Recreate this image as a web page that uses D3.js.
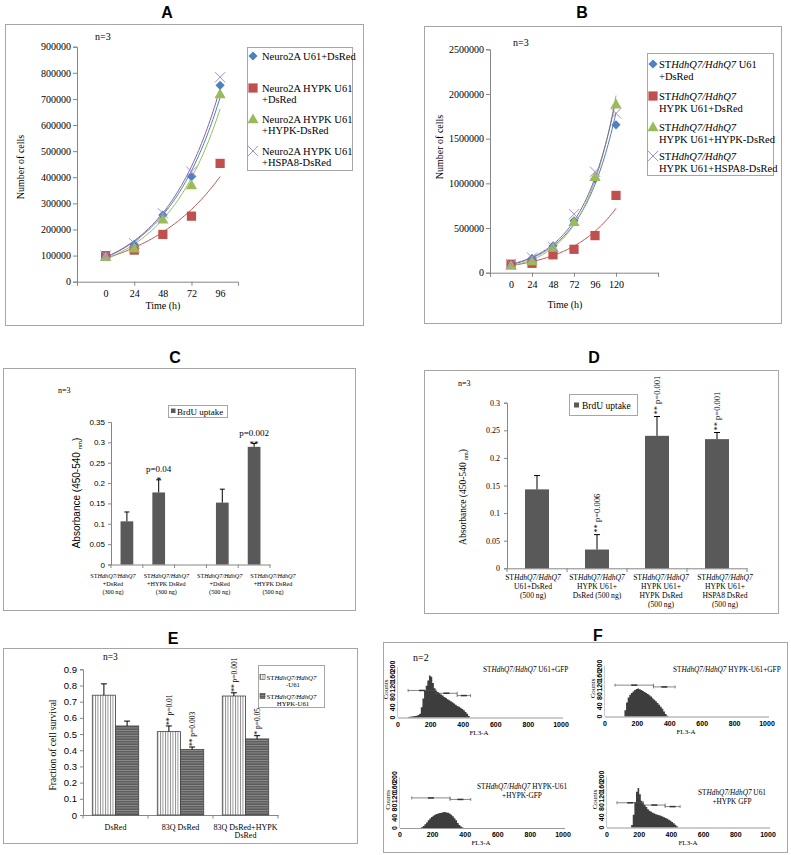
<!DOCTYPE html>
<html><head><meta charset="utf-8">
<script src="https://cdn.jsdelivr.net/npm/d3@7"></script>
<style>body{margin:0;background:#fff} svg{display:block}</style>
</head><body>
<svg id="c" width="791" height="855"></svg>
<script>
// ================= DATA =================
// Panel A
const timeA = [0, 24, 48, 72, 96];
const namesA = [["Neuro2A U61+DsRed"], ["Neuro2A HYPK U61", "+DsRed"], ["Neuro2A HYPK U61", "+HYPK-DsRed"], ["Neuro2A HYPK U61", "+HSPA8-DsRed"]];
const cellsA_U61 = [100000, 142000, 255000, 402000, 752000];
const cellsA_HYPK = [100000, 121000, 181000, 251000, 453000];
const cellsA_HYPKrescue = [96000, 128000, 239000, 370000, 719000];
const cellsA_HSPA8 = [100000, 147000, 262000, 421000, 783000];
const yTicksA = [0, 100000, 200000, 300000, 400000, 500000, 600000, 700000, 800000, 900000];
// Panel B
const timeB = [0, 24, 48, 72, 96, 120];
const namesB = [["ST{HdhQ7/HdhQ7} U61", "+DsRed"], ["ST{HdhQ7/HdhQ7}", "HYPK U61+DsRed"], ["ST{HdhQ7/HdhQ7}", "HYPK U61+HYPK-DsRed"], ["ST{HdhQ7/HdhQ7}", "HYPK U61+HSPA8-DsRed"]];
const cellsB_U61 = [90000, 160000, 300000, 580000, 1050000, 1655000];
const cellsB_HYPK = [95000, 105000, 200000, 262000, 415000, 865000];
const cellsB_HYPKrescue = [80000, 130000, 282000, 571000, 1075000, 1885000];
const cellsB_HSPA8 = [95000, 170000, 290000, 655000, 1130000, 1783000];
const yTicksB = [0, 500000, 1000000, 1500000, 2000000, 2500000];
// Panel C
const catsC = ["c1", "c2", "gap", "c3", "c4"];
const labelsC = [["ST{HdhQ7/HdhQ7}", "+DsRed", "(300 ng)"], ["ST{HdhQ7/HdhQ7}", "+HYPK DsRed", "(300 ng)"], ["ST{HdhQ7/HdhQ7}", "+DsRed", "(500 ng)"], ["ST{HdhQ7/HdhQ7}", "+HYPK DsRed", "(500 ng)"]];
const brduC = [0.106, 0.177, null, 0.152, 0.289];
const errC = [0.023, 0.031, null, 0.033, 0.008];
const pC = [null, "p=0.04", null, null, "p=0.002"];
const starsC = [null, "*", null, null, "**"];
const yTicksC = [0, 0.05, 0.1, 0.15, 0.2, 0.25, 0.3, 0.35];
// Panel D
const catsD = ["d1", "d2", "d3", "d4"];
const labelsD = [["ST{HdhQ7/HdhQ7}", "U61+DsRed", "(500 ng)"], ["ST{HdhQ7/HdhQ7}", "HYPK U61+", "DsRed (500 ng)"], ["ST{HdhQ7/HdhQ7}", "HYPK U61+", "HYPK DsRed", "(500 ng)"], ["ST{HdhQ7/HdhQ7}", "HYPK U61+", "HSPA8 DsRed", "(500 ng)"]];
const brduD = [0.143, 0.034, 0.240, 0.234];
const errD = [0.025, 0.027, 0.035, 0.012];
const notesD = [null, "** p=0.006", "** p=0.001", "** p=0.001"];
const yTicksD = [0, 0.05, 0.1, 0.15, 0.2, 0.25, 0.3];
// Panel E
const catsE = [["DsRed"], ["83Q DsRed"], ["83Q DsRed+HYPK", "DsRed"]];
const survU61 = [0.74, 0.515, 0.735];
const errU61 = [0.07, 0.035, 0.02];
const survHYPK = [0.55, 0.405, 0.47];
const errHYPK = [0.03, 0.015, 0.02];
const notesU61 = [null, "** p=0.01", "** p=0.001"];
const notesHYPK = [null, "** p=0.003", "* p=0.05"];
const yTicksE = [0, 0.1, 0.2, 0.3, 0.4, 0.5, 0.6, 0.7, 0.8, 0.9];
const legendE = [["ST{HdhQ7/HdhQ7}", "-U61"], ["ST{HdhQ7/HdhQ7}", "HYPK-U61"]];
// Panel F (FACS histograms, bins of 10 FL3-A units)
const binStepF = 10;
const startTL = 60;
const countsTL = [2,3,4,5,6,7,10,15,40,75,105,125,145,165,160,135,115,105,100,95,90,86,80,76,72,68,64,60,55,50,45,42,38,33,28,22,15,6,0];
const startTR = 110;
const countsTR = [0,25,55,75,85,92,98,104,108,110,107,104,100,96,92,88,83,78,72,66,60,53,46,38,30,20,10,3,0];
const startBL = 120;
const countsBL = [0,3,8,15,22,30,37,43,48,52,55,57,59,60,62,63,61,60,57,52,46,38,30,20,12,6,2,0];
const startBR = 140;
const countsBR = [0,10,50,100,140,155,130,105,95,88,80,72,66,62,58,55,52,50,48,46,43,40,37,34,30,26,22,17,11,5,0];
const gatesTL = [[62,232,106],[232,363,95],[363,445,86]];
const gatesTR = [[62,299,123],[299,433,116]];
const gatesBL = [[72,307,118],[307,434,112]];
const gatesBR = [[62,227,97],[227,361,88],[361,454,82]];
const titlesF = [["ST{HdhQ7/HdhQ7} U61+GFP"], ["ST{HdhQ7/HdhQ7} HYPK-U61+GFP"], ["ST{HdhQ7/HdhQ7} HYPK-U61", "+HYPK-GFP"], ["ST{HdhQ7/HdhQ7} U61", "+HYPK GFP"]];
const xTicksF = [0, 200, 400, 600, 800, 1000];
const yTicksF = [0, 40, 80, 120, 160, 200];

// ================= HELPERS =================
const svg = d3.select("#c");
const SERIF = "'Liberation Serif','Times New Roman',serif";
const SANS = "'Liberation Sans',Arial,sans-serif";
const AX = "#868686";

function rich(textSel, str) {
  str.split(/(\{[^}]*\})/).filter(s => s.length).forEach(s => {
    if (s[0] === "{") textSel.append("tspan").attr("font-style", "italic").text(s.slice(1, -1));
    else textSel.append("tspan").text(s);
  });
  return textSel;
}
function box(x0, y0, x1, y1) {
  svg.append("rect").attr("x", x0 + 0.5).attr("y", y0 + 0.5).attr("width", x1 - x0).attr("height", y1 - y0)
    .attr("fill", "none").attr("stroke", "#a6a6a6").attr("stroke-width", 1);
}
function title(t, x, y) {
  svg.append("text").attr("x", x).attr("y", y).attr("text-anchor", "middle")
    .attr("font-family", SANS).attr("font-weight", "bold").attr("font-size", 16).text(t);
}
function txt(x, y, s, size, opts = {}) {
  const t = svg.append("text").attr("x", x).attr("y", y).attr("font-family", opts.family || SERIF)
    .attr("font-size", size).attr("text-anchor", opts.anchor || "start").attr("fill", "#000");
  if (opts.rotate) t.attr("transform", `rotate(-90,${x},${y})`);
  if (opts.weight) t.attr("font-weight", opts.weight);
  return rich(t, s);
}
function styleAxis(g, family, size) {
  g.selectAll(".domain").attr("stroke", AX);
  g.selectAll(".tick line").attr("stroke", AX);
  g.selectAll(".tick text").attr("font-family", family).attr("font-size", size).attr("fill", "#000");
}
function expFit(xs, ys) {
  const ly = ys.map(Math.log);
  const mx = d3.mean(xs), my = d3.mean(ly);
  const b = d3.sum(xs, (x, i) => (x - mx) * (ly[i] - my)) / d3.sum(xs, x => (x - mx) ** 2);
  const a = my - b * mx;
  return x => Math.exp(a + b * x);
}
const COLORS = ["#4F81BD", "#C0504D", "#9BBB59", "#8064A2"];
function marker(g, k, x, y) {
  if (k === 0) g.append("path").attr("d", d3.symbol(d3.symbolSquare, 42)()).attr("transform", `translate(${x},${y}) rotate(45)`).attr("fill", COLORS[0]);
  else if (k === 1) g.append("path").attr("d", d3.symbol(d3.symbolSquare, 85)()).attr("transform", `translate(${x},${y})`).attr("fill", COLORS[1]);
  else if (k === 2) g.append("path").attr("d", d3.symbol(d3.symbolTriangle, 55)()).attr("transform", `translate(${x},${y + 1})`).attr("fill", COLORS[2]);
  else g.append("path").attr("d", d3.symbol(d3.symbolX, 70)()).attr("transform", `translate(${x},${y})`).attr("fill", "none").attr("stroke", "#9f8fcf").attr("stroke-width", 1);
}

// ================= GROWTH PANELS (A, B) =================
function growth(cfg) {
  const { times, series, names, yTicks, xDom, xR, yR, xTickMarks, legend } = cfg;
  const x = d3.scaleLinear().domain(xDom).range(xR);
  const y = d3.scaleLinear().domain([0, yTicks[yTicks.length - 1]]).range(yR);
  const gy = svg.append("g").attr("transform", `translate(${xR[0]},0)`)
    .call(d3.axisLeft(y).tickValues(yTicks).tickSize(4).tickPadding(2).tickFormat(d3.format("d")));
  styleAxis(gy, SERIF, cfg.tickSize);
  const gx = svg.append("g").attr("transform", `translate(0,${yR[0]})`)
    .call(d3.axisBottom(x).tickValues(xTickMarks).tickSize(4).tickFormat(""));
  styleAxis(gx, SERIF, cfg.tickSize);
  const gl = svg.append("g").attr("transform", `translate(0,${yR[0]})`)
    .call(d3.axisBottom(x).tickValues(times).tickSize(0).tickPadding(8).tickFormat(d3.format("d")));
  styleAxis(gl, SERIF, cfg.tickSize);
  gl.select(".domain").remove();
  const last = times[times.length - 1];
  const samp = d3.range(0, last + 0.001, last / 80);
  series.forEach((s, k) => {
    const f = expFit(times, s);
    svg.append("path").datum(samp).attr("fill", "none").attr("stroke", COLORS[k]).attr("stroke-width", 1)
      .attr("d", d3.line().x(t => x(t)).y(t => y(f(t))));
  });
  const gm = svg.append("g");
  series.forEach((s, k) => s.forEach((v, i) => marker(gm, k, x(times[i]), y(v))));
  const L = legend;
  box(L.x0, L.y0, L.x1, L.y1);
  names.forEach((lines, k) => {
    marker(svg, k, L.mx, L.rows[k]);
    lines.forEach((ln, j) => txt(L.tx, L.rows[k] + 3.5 + j * L.lh, ln, L.fs));
  });
}

// Panel A
title("A", 167, 18);
box(5, 24, 363, 325);
growth({
  times: timeA, series: [cellsA_U61, cellsA_HYPK, cellsA_HYPKrescue, cellsA_HSPA8], names: namesA,
  yTicks: yTicksA, xDom: [-24, 111], xR: [77, 238], yR: [281.7, 46.7], xTickMarks: [-24, 24, 72],
  tickSize: 10,
  legend: { x0: 247, y0: 47, x1: 352, y1: 170, mx: 253, tx: 262, rows: [56, 88, 119, 151], lh: 11, fs: 10.5 }
});
txt(95, 40, "n=3", 10);
txt(24, 167, "Number of cells", 10, { rotate: true, anchor: "middle" });
txt(163, 309, "Time (h)", 10, { anchor: "middle" });

// Panel B
title("B", 582, 18);
box(424, 26, 781, 323);
growth({
  times: timeB, series: [cellsB_U61, cellsB_HYPK, cellsB_HYPKrescue, cellsB_HSPA8], names: namesB,
  yTicks: yTicksB, xDom: [-24, 168], xR: [490, 658], yR: [272.7, 49.3], xTickMarks: [-24, 24, 72, 120, 168],
  tickSize: 10,
  legend: { x0: 647, y0: 53, x1: 773, y1: 175, mx: 653, tx: 659, rows: [64, 96, 127, 156], lh: 12, fs: 10.5 }
});
txt(513, 46, "n=3", 10);
txt(443, 147, "Number of cells", 10, { rotate: true, anchor: "middle" });
txt(565, 308, "Time (h)", 10, { anchor: "middle" });

// ================= BAR PANELS (C, D) =================
const BAR = "#595959";
function errBar(x, yTop, yErr, half) {
  svg.append("line").attr("x1", x).attr("x2", x).attr("y1", yTop).attr("y2", yErr).attr("stroke", "#000").attr("stroke-width", 1);
  svg.append("line").attr("x1", x - half).attr("x2", x + half).attr("y1", yErr).attr("y2", yErr).attr("stroke", "#000").attr("stroke-width", 1);
}

// Panel C
title("C", 175, 363);
box(3, 368, 355, 610);
{
  const xb = d3.scaleBand().domain(catsC).range([111, 270]);
  const y = d3.scaleLinear().domain([0, 0.35]).range([564.5, 422]);
  const gy = svg.append("g").attr("transform", "translate(111,0)")
    .call(d3.axisLeft(y).tickValues(yTicksC).tickSize(3).tickPadding(3).tickFormat(d => d === 0 ? "0" : d3.format("")(+d.toFixed(2))));
  styleAxis(gy, SANS, 8);
  const gx = svg.append("g").attr("transform", "translate(0,564.5)")
    .call(d3.axisBottom(xb).tickSize(0).tickFormat(""));
  styleAxis(gx, SANS, 8);
  catsC.concat(["end"]).forEach((c, i) => {
    const xx = 111 + i * xb.step();
    svg.append("line").attr("x1", xx).attr("x2", xx).attr("y1", 564.5).attr("y2", 568).attr("stroke", AX);
  });
  const bw = xb.bandwidth() / 2.5;
  catsC.forEach((c, i) => {
    if (brduC[i] == null) return;
    const cx = xb(c) + xb.bandwidth() / 2;
    svg.append("rect").attr("x", cx - bw / 2).attr("y", y(brduC[i])).attr("width", bw).attr("height", y(0) - y(brduC[i])).attr("fill", BAR);
    const ye = y(brduC[i] + errC[i]);
    errBar(cx, y(brduC[i]), ye, 2.5);
    if (starsC[i]) txt(cx, ye + 3, starsC[i], 9, { anchor: "middle" });
    if (pC[i]) txt(cx, ye - 8, pC[i], 9, { anchor: "middle" });
  });
  const lx = d3.scalePoint().domain(d3.range(labelsC.length)).range([113, 273]);
  labelsC.forEach((lines, i) => lines.forEach((ln, j) => {
    txt(lx(i), 578 + j * 8, ln, 6.2, { anchor: "middle" });
  }));
  box(168, 405, 227, 417);
  svg.append("rect").attr("x", 171).attr("y", 408.5).attr("width", 4.5).attr("height", 4.5).attr("fill", BAR);
  txt(177, 414.5, "BrdU uptake", 9);
  txt(58, 393, "n=3", 8);
  const yl = svg.append("text").attr("x", 80).attr("y", 493).attr("text-anchor", "middle")
    .attr("font-family", SANS).attr("font-size", 10).attr("transform", "rotate(-90,80,493)");
  yl.append("tspan").text("Absorbance (450-540 ");
  yl.append("tspan").attr("font-size", 6).attr("dy", 2).text("nm");
  yl.append("tspan").attr("dy", -2).text(")");
}

// Panel D
title("D", 594, 363);
box(424, 370, 778, 613);
{
  const xb = d3.scaleBand().domain(catsD).range([507, 747]);
  const y = d3.scaleLinear().domain([0, 0.3]).range([568.3, 402.7]);
  const gy = svg.append("g").attr("transform", "translate(507,0)")
    .call(d3.axisLeft(y).tickValues(yTicksD).tickSize(3).tickPadding(4).tickFormat(d => d === 0 ? "0" : d3.format("")(+d.toFixed(2))));
  styleAxis(gy, SERIF, 8);
  const gx = svg.append("g").attr("transform", "translate(0,568.3)")
    .call(d3.axisBottom(xb).tickSize(0).tickFormat(""));
  styleAxis(gx, SERIF, 8);
  catsD.concat(["end"]).forEach((c, i) => {
    const xx = 507 + i * xb.step();
    svg.append("line").attr("x1", xx).attr("x2", xx).attr("y1", 568.3).attr("y2", 572).attr("stroke", AX);
  });
  const bw = xb.bandwidth() / 2.5;
  const lx = d3.scalePoint().domain(catsD).range([533, 725]);
  catsD.forEach((c, i) => {
    const cx = xb(c) + xb.bandwidth() / 2;
    svg.append("rect").attr("x", cx - bw / 2).attr("y", y(brduD[i])).attr("width", bw).attr("height", y(0) - y(brduD[i])).attr("fill", BAR);
    const ye = y(brduD[i] + errD[i]);
    errBar(cx, y(brduD[i]), ye, 3);
    if (notesD[i]) txt(cx + 3, ye - 2, notesD[i], 8.5, { rotate: true });
    labelsD[i].forEach((ln, j) => txt(lx(c), 580 + j * 9, ln, 7.6, { anchor: "middle" }));
  });
  box(569, 394, 637, 415);
  svg.append("rect").attr("x", 574).attr("y", 402.5).attr("width", 5).attr("height", 5).attr("fill", BAR);
  txt(582, 408.5, "BrdU uptake", 9.5);
  txt(458, 386, "n=3", 8);
  const yl = svg.append("text").attr("x", 466).attr("y", 497).attr("text-anchor", "middle")
    .attr("font-family", SERIF).attr("font-size", 9.5).attr("transform", "rotate(-90,466,497)");
  yl.append("tspan").text("Absorbance (450-540 ");
  yl.append("tspan").attr("font-size", 6).attr("dy", 2).text("nm");
  yl.append("tspan").attr("dy", -2).text(")");
}

// ================= PANEL E =================
title("E", 173, 644);
box(3, 648, 357, 843);
{
  const defs = svg.append("defs");
  const pv = defs.append("pattern").attr("id", "vstripe").attr("patternUnits", "userSpaceOnUse").attr("width", 2.5).attr("height", 4);
  pv.append("rect").attr("width", 2.5).attr("height", 4).attr("fill", "#fff");
  pv.append("rect").attr("x", 0).attr("width", 0.9).attr("height", 4).attr("fill", "#8a8a8a");
  const ph = defs.append("pattern").attr("id", "hstripe").attr("patternUnits", "userSpaceOnUse").attr("width", 4).attr("height", 2.5);
  ph.append("rect").attr("width", 4).attr("height", 2.5).attr("fill", "#5c5c5c");
  ph.append("rect").attr("y", 0).attr("width", 4).attr("height", 0.9).attr("fill", "#8e8e8e");

  const keys = catsE.map((c, i) => "e" + i);
  const xb = d3.scaleBand().domain(keys).range([83, 278]);
  const xs = d3.scaleBand().domain(["u61", "hypk"]).range([0, xb.bandwidth()]).paddingOuter(0.4);
  const y = d3.scaleLinear().domain([0, 0.9]).range([815, 669.3]);
  const gy = svg.append("g").attr("transform", "translate(83,0)")
    .call(d3.axisLeft(y).tickValues(yTicksE).tickSize(3).tickPadding(3).tickFormat(d => d === 0 ? "0" : d3.format(".1f")(d)));
  styleAxis(gy, SANS, 9.5);
  const gx = svg.append("g").attr("transform", "translate(0,815)").call(d3.axisBottom(xb).tickSize(0).tickFormat(""));
  styleAxis(gx, SANS, 9);
  keys.concat(["end"]).forEach((c, i) => {
    const xx = 83 + i * xb.step();
    svg.append("line").attr("x1", xx).attr("x2", xx).attr("y1", 815).attr("y2", 818.5).attr("stroke", AX);
  });
  const sets = [
    { k: "u61", vals: survU61, errs: errU61, notes: notesU61, fill: "url(#vstripe)" },
    { k: "hypk", vals: survHYPK, errs: errHYPK, notes: notesHYPK, fill: "url(#hstripe)" }
  ];
  keys.forEach((c, i) => {
    sets.forEach(s => {
      const x0 = xb(c) + xs(s.k);
      svg.append("rect").attr("x", x0).attr("y", y(s.vals[i])).attr("width", xs.bandwidth()).attr("height", y(0) - y(s.vals[i]))
        .attr("fill", s.fill).attr("stroke", "#444").attr("stroke-width", 0.8);
      const cx = x0 + xs.bandwidth() / 2;
      const ye = y(s.vals[i] + s.errs[i]);
      errBar(cx, y(s.vals[i]), ye, 3);
      if (s.notes[i]) txt(cx + 3, ye - 1, s.notes[i], 7.5, { rotate: true });
    });
    catsE[i].forEach((ln, j) => txt(xb(c) + xb.bandwidth() / 2, 830 + j * 7.5, ln, 8, { anchor: "middle" }));
  });
  txt(103, 660, "n=3", 9.5);
  txt(56, 745, "Fraction of cell survival", 9.5, { rotate: true, anchor: "middle" });
  box(258, 665, 324, 707);
  svg.append("rect").attr("x", 260).attr("y", 674.5).attr("width", 5).attr("height", 5).attr("fill", "url(#vstripe)").attr("stroke", "#444").attr("stroke-width", 0.6);
  svg.append("rect").attr("x", 260).attr("y", 693.5).attr("width", 5).attr("height", 5).attr("fill", "url(#hstripe)").attr("stroke", "#444").attr("stroke-width", 0.6);
  legendE.forEach((lines, k) => {
    txt(266.5, 679.5 + k * 19, lines[0], 6.8);
    txt(293, 686.5 + k * 19, lines[1], 6.8, { anchor: "middle" });
  });
}

// ================= PANEL F =================
title("F", 598, 641);
box(383, 642, 787, 852);
{
  const subs = [
    { x0: 398, x1: 561, base: 717.5, start: startTL, counts: countsTL, gates: gatesTL, t: titlesF[0], tx: 483, ty: 672, ta: "start" },
    { x0: 605, x1: 767, base: 716.5, start: startTR, counts: countsTR, gates: gatesTR, t: titlesF[1], tx: 673, ty: 672, ta: "start" },
    { x0: 400, x1: 563, base: 828, start: startBL, counts: countsBL, gates: gatesBL, t: titlesF[2], tx: 522, ty: 789, ta: "middle" },
    { x0: 607, x1: 768, base: 827.5, start: startBR, counts: countsBR, gates: gatesBR, t: titlesF[3], tx: 732, ty: 795, ta: "middle" }
  ];
  subs.forEach(s => {
    const x = d3.scaleLinear().domain([0, 1000]).range([s.x0, s.x1]);
    const y = d3.scaleLinear().domain([0, 200]).range([s.base, s.base - 51]);
    const pts = s.counts.map((c, i) => [s.start + i * binStepF, c]);
    svg.append("path").datum(pts).attr("fill", "#3d3d3d")
      .attr("d", d3.area().x(d => x(d[0])).y0(y(0)).y1(d => y(d[1])).curve(d3.curveStepAfter));
    svg.append("line").attr("x1", s.x0).attr("x2", s.x1 + 2).attr("y1", s.base + 0.5).attr("y2", s.base + 0.5).attr("stroke", "#999");
    svg.append("line").attr("x1", s.x0 - 0.5).attr("x2", s.x0 - 0.5).attr("y1", s.base).attr("y2", y(200)).attr("stroke", "#ccc");
    xTicksF.forEach(v => svg.append("text").attr("x", x(v)).attr("y", s.base + 9).attr("text-anchor", "middle")
      .attr("font-family", SANS).attr("font-weight", "bold").attr("font-size", 7).text(v));
    yTicksF.forEach(v => {
      const yy = y(v);
      svg.append("text").attr("x", s.x0 - 3).attr("y", yy).attr("text-anchor", "middle")
        .attr("font-family", SANS).attr("font-weight", "bold").attr("font-size", 7)
        .attr("transform", `rotate(-90,${s.x0 - 3},${yy})`).text(v);
    });
    txt(s.x0 - 10, y(110), "Counts", 7, { rotate: true, anchor: "middle" });
    txt(s.x0 + 81, s.base + 17, "FL3-A", 7, { anchor: "middle" });
    s.gates.forEach(g => {
      const yy = y(g[2]);
      svg.append("line").attr("x1", x(g[0])).attr("x2", x(g[1])).attr("y1", yy).attr("y2", yy).attr("stroke", "#555").attr("stroke-width", 0.7);
      [g[0], g[1]].forEach(v => svg.append("line").attr("x1", x(v)).attr("x2", x(v)).attr("y1", yy - 1.5).attr("y2", yy + 1.5).attr("stroke", "#555").attr("stroke-width", 0.7));
      svg.append("line").attr("x1", x((g[0] + g[1]) / 2) - 3).attr("x2", x((g[0] + g[1]) / 2) + 3).attr("y1", yy).attr("y2", yy).attr("stroke", "#333").attr("stroke-width", 1.5);
    });
    s.t.forEach((ln, j) => txt(s.tx, s.ty + j * 8.5, ln, 7.3, { anchor: s.ta }));
  });
  txt(413, 661, "n=2", 10);
}
</script>
</body></html>
